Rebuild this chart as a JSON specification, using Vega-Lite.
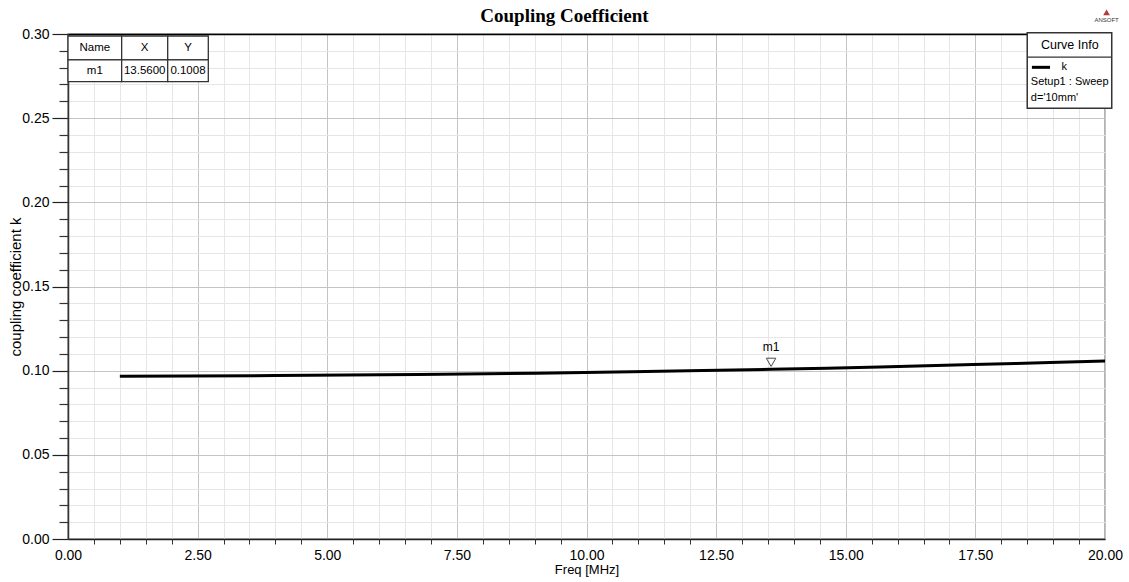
{
  "$schema": "https://vega.github.io/schema/vega-lite/v6.json",
  "width": 1037,
  "height": 505,
  "autosize": "none",
  "padding": {"left": 68, "top": 34, "right": 24, "bottom": 43},
  "background": "white",
  "config": {
    "view": {"stroke": "#9a9a9a", "strokeWidth": 1.5},
    "font": "Liberation Sans, Arial",
    "axis": {
      "labelFont": "Liberation Sans, Arial",
      "titleFont": "Liberation Sans, Arial",
      "labelColor": "black",
      "titleColor": "black",
      "labelFlush": false,
      "labelBound": false,
      "labelOverlap": false
    }
  },
  "title": {
    "text": "Coupling Coefficient",
    "font": "Liberation Serif",
    "fontWeight": "bold",
    "fontSize": 19,
    "color": "black",
    "anchor": "middle",
    "dx": -22,
    "offset": -16
  },
  "datasets": {
    "curve": [
      {"freq": 1.0, "k": 0.0967},
      {"freq": 4.0, "k": 0.0971},
      {"freq": 6.75, "k": 0.0977},
      {"freq": 9.04, "k": 0.0985},
      {"freq": 10.87, "k": 0.0994},
      {"freq": 12.25, "k": 0.1001},
      {"freq": 13.56, "k": 0.1008},
      {"freq": 14.64, "k": 0.1015},
      {"freq": 15.66, "k": 0.1022},
      {"freq": 16.56, "k": 0.1029},
      {"freq": 17.46, "k": 0.1036},
      {"freq": 18.27, "k": 0.1042},
      {"freq": 18.94, "k": 0.1048},
      {"freq": 19.65, "k": 0.1054},
      {"freq": 20.0, "k": 0.1057}
    ],
    "marker": [{"name": "m1", "freq": 13.56, "k": 0.1008}],
    "markerTableCells": [
      {"x0": 0.0, "x1": 1.035, "y0": 0.2846, "y1": 0.2988},
      {"x0": 1.035, "x1": 1.923, "y0": 0.2846, "y1": 0.2988},
      {"x0": 1.923, "x1": 2.706, "y0": 0.2846, "y1": 0.2988},
      {"x0": 0.0, "x1": 1.035, "y0": 0.2717, "y1": 0.2846},
      {"x0": 1.035, "x1": 1.923, "y0": 0.2717, "y1": 0.2846},
      {"x0": 1.923, "x1": 2.706, "y0": 0.2717, "y1": 0.2846}
    ],
    "markerTableText": [
      {"cx": 0.517, "cy": 0.2917, "label": "Name"},
      {"cx": 1.479, "cy": 0.2917, "label": "X"},
      {"cx": 2.314, "cy": 0.2917, "label": "Y"},
      {"cx": 0.517, "cy": 0.2781, "label": "m1"},
      {"cx": 1.479, "cy": 0.2781, "label": "13.5600"},
      {"cx": 2.314, "cy": 0.2781, "label": "0.1008"}
    ],
    "curveInfoBox": [
      {"x0": 18.5, "x1": 20.13, "y0": 0.2559, "y1": 0.3008, "yDiv": 0.2863}
    ],
    "curveInfoHeader": [{"cx": 19.32, "cy": 0.2937, "label": "Curve Info"}],
    "curveInfoSample": [{"x0": 18.59, "x1": 18.94, "y": 0.2802}],
    "curveInfoText": [
      {"lx": 19.16, "ly": 0.2806, "label": "k"},
      {"lx": 18.57, "ly": 0.2717, "label": "Setup1 : Sweep"},
      {"lx": 18.57, "ly": 0.2622, "label": "d='10mm'"}
    ],
    "logo": [{"x": 20.03, "yMark": 0.3128, "yText": 0.3086, "label": "ANSOFT"}]
  },
  "resolve": {"axis": {"x": "independent", "y": "independent"}},
  "layer": [
    {
      "data": {"name": "curve"},
      "mark": {"type": "line", "color": "black", "strokeWidth": 3},
      "encoding": {
        "x": {
          "field": "freq", "type": "quantitative",
          "scale": {"domain": [0, 20], "nice": false, "zero": false},
          "axis": {
            "orient": "bottom",
            "values": [0.5, 1, 1.5, 2, 3, 3.5, 4, 4.5, 5.5, 6, 6.5, 7, 8, 8.5, 9, 9.5, 10.5, 11, 11.5, 12, 13, 13.5, 14, 14.5, 15.5, 16, 16.5, 17, 18, 18.5, 19, 19.5],
            "grid": true, "gridColor": "#e6e6e6", "gridWidth": 1,
            "labels": false, "domain": false,
            "ticks": true, "tickSize": 5, "tickColor": "#333", "tickWidth": 1,
            "title": null
          }
        },
        "y": {
          "field": "k", "type": "quantitative",
          "scale": {"domain": [0, 0.3], "nice": false, "zero": false},
          "axis": {
            "orient": "left",
            "values": [0.01, 0.02, 0.03, 0.04, 0.06, 0.07, 0.08, 0.09, 0.11, 0.12, 0.13, 0.14, 0.16, 0.17, 0.18, 0.19, 0.21, 0.22, 0.23, 0.24, 0.26, 0.27, 0.28, 0.29],
            "grid": true, "gridColor": "#e6e6e6", "gridWidth": 1,
            "labels": false, "domain": false,
            "ticks": true, "tickSize": 9, "tickColor": "#333", "tickWidth": 1.2,
            "title": null
          }
        }
      }
    },
    {
      "data": {"name": "marker"},
      "mark": {"type": "point", "shape": "triangle-down", "filled": false, "stroke": "black", "strokeWidth": 1, "size": 90, "yOffset": -7},
      "encoding": {
        "x": {
          "field": "freq", "type": "quantitative",
          "scale": {"domain": [0, 20], "nice": false, "zero": false},
          "axis": {
            "orient": "bottom",
            "values": [0, 2.5, 5, 7.5, 10, 12.5, 15, 17.5, 20],
            "format": ".2f",
            "grid": true, "gridColor": "#c4c4c4", "gridWidth": 1,
            "ticks": false, "labelPadding": 9, "labelFontSize": 14,
            "domain": true, "domainColor": "#222", "domainWidth": 1.5,
            "title": "Freq [MHz]", "titleFontSize": 13, "titleFontWeight": "normal", "titlePadding": 1
          }
        },
        "y": {
          "field": "k", "type": "quantitative",
          "scale": {"domain": [0, 0.3], "nice": false, "zero": false},
          "axis": {
            "orient": "left",
            "values": [0, 0.05, 0.1, 0.15, 0.2, 0.25, 0.3],
            "format": ".2f",
            "grid": true, "gridColor": "#c4c4c4", "gridWidth": 1,
            "ticks": true, "tickSize": 16, "tickColor": "#222", "tickWidth": 1.2,
            "labelPadding": 3, "labelFontSize": 14,
            "domain": true, "domainColor": "#333", "domainWidth": 1.5,
            "title": "coupling coefficient k", "titleFontSize": 15, "titleFontWeight": "normal", "titlePadding": -2
          }
        }
      }
    },
    {
      "data": {"name": "marker"},
      "mark": {"type": "text", "fontSize": 12, "dy": -22, "baseline": "middle", "color": "black"},
      "encoding": {
        "x": {
          "field": "freq", "type": "quantitative",
          "scale": {"domain": [0, 20], "nice": false, "zero": false},
          "axis": {"orient": "top", "labels": false, "ticks": false, "grid": false, "domain": true, "domainColor": "black", "domainWidth": 1.5, "title": null}
        },
        "y": {"field": "k", "type": "quantitative", "scale": {"domain": [0, 0.3], "nice": false, "zero": false}, "axis": null},
        "text": {"field": "name"}
      }
    },
    {
      "data": {"name": "markerTableCells"},
      "mark": {"type": "rect", "fill": "white", "stroke": "#333", "strokeWidth": 1.3},
      "encoding": {
        "x": {"field": "x0", "type": "quantitative", "scale": {"domain": [0, 20], "nice": false, "zero": false}, "axis": null},
        "x2": {"field": "x1"},
        "y": {"field": "y0", "type": "quantitative", "scale": {"domain": [0, 0.3], "nice": false, "zero": false}, "axis": null},
        "y2": {"field": "y1"}
      }
    },
    {
      "data": {"name": "markerTableText"},
      "mark": {"type": "text", "fontSize": 11.5, "baseline": "middle", "align": "center", "color": "black"},
      "encoding": {
        "x": {"field": "cx", "type": "quantitative", "scale": {"domain": [0, 20], "nice": false, "zero": false}, "axis": null},
        "y": {"field": "cy", "type": "quantitative", "scale": {"domain": [0, 0.3], "nice": false, "zero": false}, "axis": null},
        "text": {"field": "label"}
      }
    },
    {
      "data": {"name": "curveInfoBox"},
      "mark": {"type": "rect", "fill": "white", "stroke": "#333", "strokeWidth": 1.5},
      "encoding": {
        "x": {"field": "x0", "type": "quantitative", "scale": {"domain": [0, 20], "nice": false, "zero": false}, "axis": null},
        "x2": {"field": "x1"},
        "y": {"field": "y0", "type": "quantitative", "scale": {"domain": [0, 0.3], "nice": false, "zero": false}, "axis": null},
        "y2": {"field": "y1"}
      }
    },
    {
      "data": {"name": "curveInfoBox"},
      "mark": {"type": "rule", "stroke": "#333", "strokeWidth": 1.3},
      "encoding": {
        "x": {"field": "x0", "type": "quantitative", "scale": {"domain": [0, 20], "nice": false, "zero": false}, "axis": null},
        "x2": {"field": "x1"},
        "y": {"field": "yDiv", "type": "quantitative", "scale": {"domain": [0, 0.3], "nice": false, "zero": false}, "axis": null}
      }
    },
    {
      "data": {"name": "curveInfoSample"},
      "mark": {"type": "rule", "stroke": "black", "strokeWidth": 3},
      "encoding": {
        "x": {"field": "x0", "type": "quantitative", "scale": {"domain": [0, 20], "nice": false, "zero": false}, "axis": null},
        "x2": {"field": "x1"},
        "y": {"field": "y", "type": "quantitative", "scale": {"domain": [0, 0.3], "nice": false, "zero": false}, "axis": null}
      }
    },
    {
      "data": {"name": "curveInfoHeader"},
      "mark": {"type": "text", "fontSize": 12.5, "baseline": "middle", "align": "center", "color": "black"},
      "encoding": {
        "x": {"field": "cx", "type": "quantitative", "scale": {"domain": [0, 20], "nice": false, "zero": false}, "axis": null},
        "y": {"field": "cy", "type": "quantitative", "scale": {"domain": [0, 0.3], "nice": false, "zero": false}, "axis": null},
        "text": {"field": "label"}
      }
    },
    {
      "data": {"name": "curveInfoText"},
      "mark": {"type": "text", "fontSize": 11, "baseline": "middle", "align": "left", "color": "black"},
      "encoding": {
        "x": {"field": "lx", "type": "quantitative", "scale": {"domain": [0, 20], "nice": false, "zero": false}, "axis": null},
        "y": {"field": "ly", "type": "quantitative", "scale": {"domain": [0, 0.3], "nice": false, "zero": false}, "axis": null},
        "text": {"field": "label"}
      }
    },
    {
      "data": {"name": "logo"},
      "mark": {"type": "point", "shape": "triangle-up", "filled": true, "color": "#b23a3a", "size": 45, "opacity": 1},
      "encoding": {
        "x": {"field": "x", "type": "quantitative", "scale": {"domain": [0, 20], "nice": false, "zero": false}, "axis": null},
        "y": {"field": "yMark", "type": "quantitative", "scale": {"domain": [0, 0.3], "nice": false, "zero": false}, "axis": null}
      }
    },
    {
      "data": {"name": "logo"},
      "mark": {"type": "text", "fontSize": 6, "baseline": "middle", "align": "center", "color": "#333"},
      "encoding": {
        "x": {"field": "x", "type": "quantitative", "scale": {"domain": [0, 20], "nice": false, "zero": false}, "axis": null},
        "y": {"field": "yText", "type": "quantitative", "scale": {"domain": [0, 0.3], "nice": false, "zero": false}, "axis": null},
        "text": {"field": "label"}
      }
    }
  ]
}
